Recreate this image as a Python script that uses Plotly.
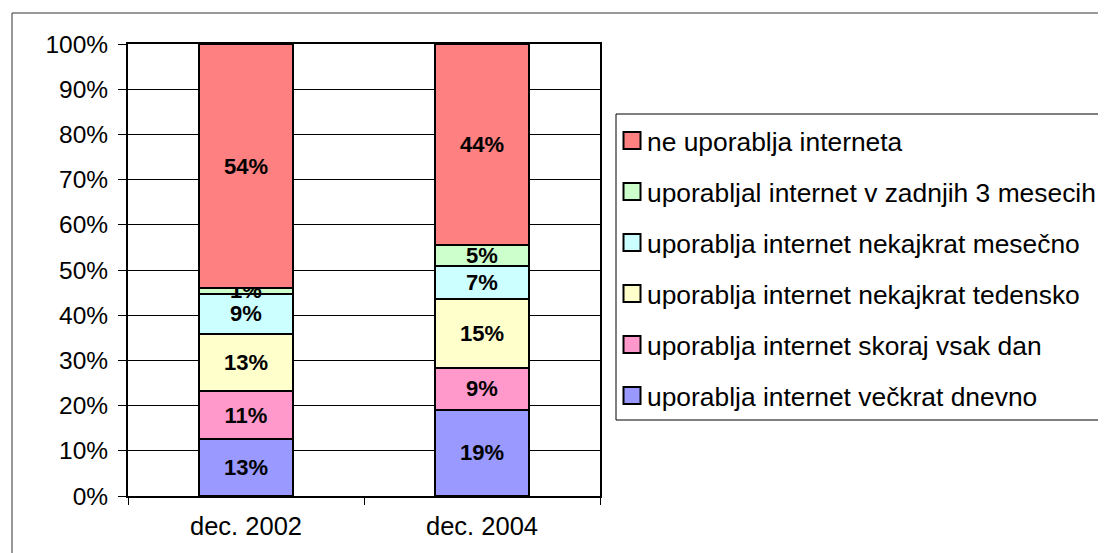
import plotly.graph_objects as go

categories = ["dec. 2002", "dec. 2004"]
series_names = [
    "uporablja internet večkrat dnevno",
    "uporablja internet skoraj vsak dan",
    "uporablja internet nekajkrat tedensko",
    "uporablja internet nekajkrat mesečno",
    "uporabljal internet v zadnjih 3 mesecih",
    "ne uporablja interneta",
]
values_2002 = [12.6, 10.6, 12.7, 8.9, 1.2, 54.0]
values_2004 = [19.1, 9.2, 15.2, 7.3, 4.8, 44.4]
colors = ["#9999FF", "#FF99CC", "#FFFFCC", "#CCFFFF", "#CCFFCC", "#FF8080"]
y_ticks = [0, 10, 20, 30, 40, 50, 60, 70, 80, 90, 100]
y_tick_labels = [f"{v}%" for v in y_ticks]

W, H = 1106, 553
OFF = 8  # page body margin
L, R, T, B = 128 - OFF, 600 - OFF, 44 - OFF, 496 - OFF  # plot area in figure pixels

fig = go.Figure()
for i, name in enumerate(series_names):
    vals = [values_2002[i], values_2004[i]]
    fig.add_trace(go.Bar(
        x=categories, y=vals, name=name,
        marker=dict(color=colors[i], line=dict(color="black", width=2)),
        text=[f"{round(v)}%" for v in vals],
        textposition="inside", insidetextanchor="middle", textangle=0,
        textfont=dict(family="Liberation Sans, Arial", size=22, color="black", weight="bold"),
        showlegend=False,
        hoverinfo="skip",
    ))

def px_x(p):
    return (p - OFF - L) / (R - L)

def px_y(p):
    return (B - (p - OFF)) / (B - T)

shapes = [
    # outer chart frame
    dict(type="rect", xref="paper", yref="paper",
         x0=px_x(12), x1=px_x(1130), y0=px_y(13), y1=px_y(580),
         line=dict(color="#333333", width=1), fillcolor="rgba(0,0,0,0)", layer="below"),
    # legend box
    dict(type="rect", xref="paper", yref="paper",
         x0=px_x(616), x1=px_x(1130), y0=px_y(114), y1=px_y(420),
         line=dict(color="black", width=1), fillcolor="white", layer="below"),
]
annotations = []
legend_top_center = 140.5
legend_step = 51.0
n = len(series_names)
for k in range(n):
    i = n - 1 - k  # top entry is the top-most stacked series
    cy = legend_top_center + k * legend_step
    shapes.append(dict(
        type="rect", xref="paper", yref="paper",
        x0=px_x(623.5), x1=px_x(640.5), y0=px_y(cy - 8.5), y1=px_y(cy + 8.5),
        line=dict(color="black", width=2), fillcolor=colors[i], layer="above",
    ))
    annotations.append(dict(
        xref="paper", yref="paper", x=px_x(645), y=px_y(cy + 1),
        xanchor="left", yanchor="middle", showarrow=False,
        text=series_names[i],
        font=dict(family="Liberation Sans, Arial", size=26.4, color="black"),
    ))

fig.update_layout(
    width=W, height=H,
    barmode="stack", bargap=0.6,
    margin=dict(l=L, r=W - R, t=T, b=H - B, autoexpand=False),
    paper_bgcolor="white", plot_bgcolor="white",
    font=dict(family="Liberation Sans, Arial", color="black"),
    uniformtext=dict(minsize=22, mode="show"),
    showlegend=False,
    xaxis=dict(
        showline=True, linecolor="black", linewidth=2, mirror=True,
        ticks="outside", tickson="boundaries", ticklen=7, tickcolor="black", tickwidth=1,
        tickfont=dict(size=25.5, family="Liberation Sans, Arial"),
        ticklabelstandoff=6,
        showgrid=False,
    ),
    yaxis=dict(
        range=[0, 100], tickvals=y_ticks, ticktext=y_tick_labels,
        showline=True, linecolor="black", linewidth=2, mirror=True,
        ticks="outside", ticklen=8, tickcolor="black", tickwidth=1,
        showgrid=True, gridcolor="black", gridwidth=1,
        tickfont=dict(size=24.5, family="Liberation Sans, Arial"),
        ticklabelstandoff=5,
        zeroline=False,
    ),
    shapes=shapes,
    annotations=annotations,
)

fig.write_html("out.html")
